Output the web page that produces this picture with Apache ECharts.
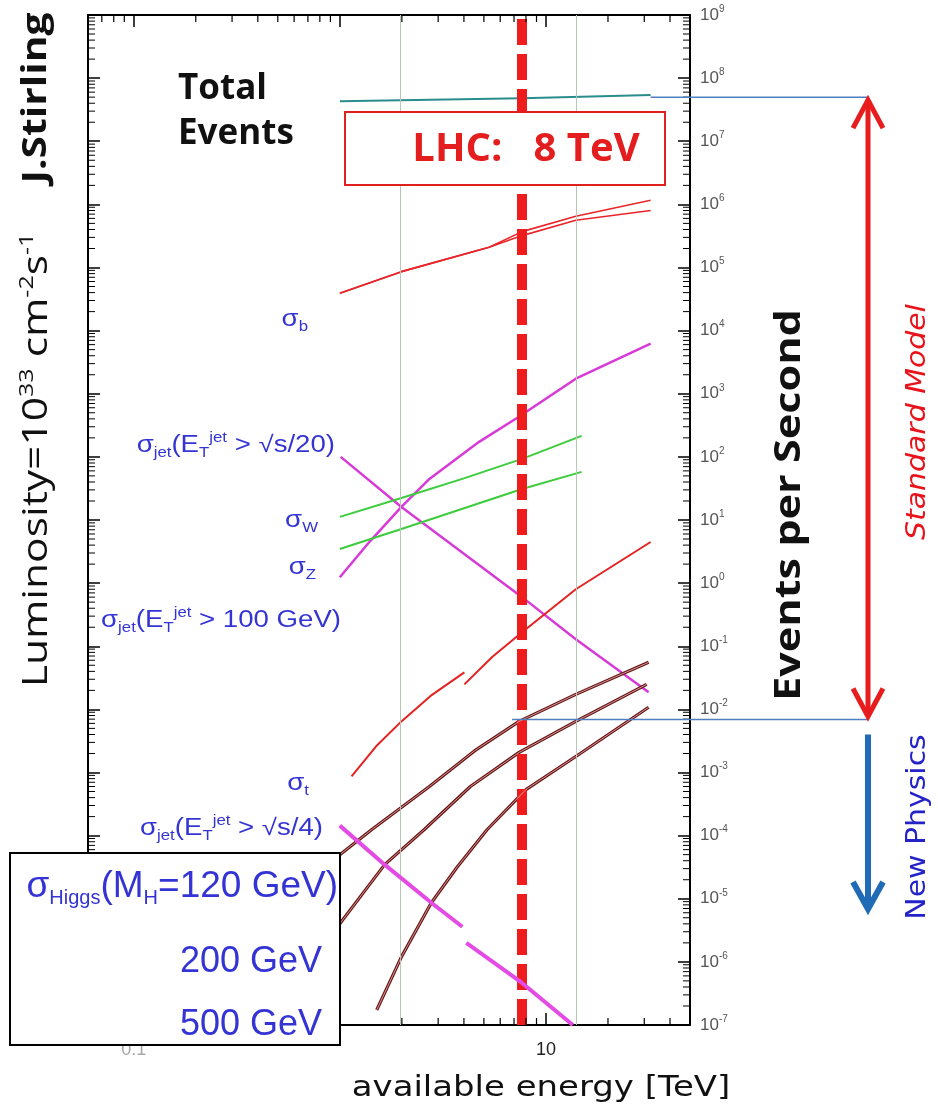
<!DOCTYPE html>
<html>
<head>
<meta charset="utf-8">
<title>Events per second at the LHC</title>
<script src="https://cdn.jsdelivr.net/npm/echarts@6/dist/echarts.min.js"></script>
<style>
  html, body { margin: 0; padding: 0; background: #ffffff; }
  #chart { width: 938px; height: 1112px; }
</style>
</head>
<body>
<div id="chart"></div>
<script>
// axes: available energy in TeV, events per second at L = 1e33 cm^-2 s^-1
const energyRange = [0.06, 50];
const rateRange = [1e-7, 1e9];
const xTickLabels = [[0.1, '0.1'], [10, '10']];
const rateTickPowers = [-7, -6, -5, -4, -3, -2, -1, 0, 1, 2, 3, 4, 5, 6, 7, 8, 9];

// curves as [energy, events per second]
const totalEvents = [[1, 4.3e7], [7.66, 4.8e7], [32.2, 5.4e7]];
const sigmaBUpper = [[1, 3.9e4], [1.99, 8.6e4], [5.3, 2.1e5], [7.66, 3.7e5], [13.96, 6.5e5], [32.2, 1.16e6]];
const sigmaBLower = [[1, 3.9e4], [1.99, 8.6e4], [5.3, 2.1e5], [7.66, 3.2e5], [13.96, 5.6e5], [32.2, 8.0e5]];
const jetSqrtS20 = [[1.01, 100], [1.99, 16.1], [7.66, 0.6], [13.96, 0.129], [31.5, 0.0186]];
const jet100GeV = [[1, 1.24], [1.4, 4.6], [1.99, 16.1], [2.72, 44.8], [4.74, 173], [7.3, 420], [13.96, 1730], [32.2, 6220]];
const sigmaW = [[1, 11.2], [1.99, 22.3], [3.93, 44.8], [7.66, 92.9], [14.9, 215]];
const sigmaZ = [[1, 3.47], [1.99, 7.19], [7.66, 31.0], [14.9, 57.8]];
const topPpbar = [[1.14, 8.65e-4], [1.5, 2.6e-3], [1.99, 6.45e-3], [2.8, 1.7e-2], [4.02, 0.0386]];
const topPp = [[4.02, 0.0249], [5.5, 0.068], [7.66, 0.167], [13.96, 0.80], [32.2, 4.48]];
const higgs120 = [[1, 4.99e-5], [1.43, 1.25e-4], [2.72, 6.0e-4], [4.5, 2.2e-3], [7.41, 6.45e-3], [13.96, 0.0173], [31.5, 0.0557]];
const higgs200 = [[0.95, 3.22e-6], [1.65, 3.47e-5], [2.57, 1.25e-4], [4.3, 6.0e-4], [7.41, 2.08e-3], [13.96, 6.45e-3], [30.8, 0.0249]];
const higgs500 = [[1.51, 1.73e-7], [1.99, 1.2e-6], [2.78, 8.65e-6], [3.72, 3.22e-5], [5.19, 1.25e-4], [8.0, 5.37e-4], [13.96, 1.79e-3], [31.5, 0.0108]];
const jetSqrtS4Ppbar = [[1, 1.44e-4], [1.65, 3.47e-5], [2.78, 8.65e-6], [3.93, 3.6e-6]];
const jetSqrtS4Pp = [[4.11, 2.0e-6], [7.66, 4.64e-7], [13.5, 1.0e-7]];

// reference energies and the standard model band
const tevatronE = 1.96;
const lhc8E = 7.66;
const lhc14E = 14;
const smBand = [5.0e7, 6.9e-3];
const smLineStartE = [32.2, 6.85];

const helv = '"Liberation Sans", Arial, sans-serif';
const sans = '"Open Sans", Lato, sans-serif';
const blue = '#3434d4';

const chart = echarts.init(document.getElementById('chart'));

function curve(data, color, width, z) {
  return {
    type: 'line', data: data, symbol: 'none', showSymbol: false,
    smooth: false, silent: true,
    lineStyle: { color: color, width: width, join: 'round' }, z: z || 3
  };
}

function xLabel(v) {
  for (const [val, txt] of xTickLabels) {
    if (Math.abs(Math.log10(v) - Math.log10(val)) < 1e-6) return val < 1 ? '{g|' + txt + '}' : '{k|' + txt + '}';
  }
  return '';
}

function yLabel(v) {
  const p = Math.round(Math.log10(v));
  if (Math.abs(Math.log10(v) - p) > 1e-6 || rateTickPowers.indexOf(p) < 0) return '';
  return '{b|10}{e|' + p + '}';
}

const axisLine = { show: true, onZero: false, lineStyle: { color: '#000', width: 2 } };
const axisTick = { show: true, inside: true, length: 12, lineStyle: { color: '#000', width: 1.5 } };

const option = {
  animation: false,
  backgroundColor: '#ffffff',
  grid: { left: 88, right: 248, top: 15, bottom: 87, containLabel: false },
  xAxis: [
    {
      type: 'log', position: 'bottom', min: energyRange[0], max: energyRange[1],
      axisLine: axisLine, axisTick: axisTick, splitLine: { show: false },
      axisLabel: {
        margin: 16, formatter: xLabel,
        rich: {
          g: { fontSize: 18, color: '#a8a8a8', fontFamily: helv },
          k: { fontSize: 18, color: '#222', fontFamily: helv }
        }
      }
    },
    {
      type: 'log', position: 'top', min: energyRange[0], max: energyRange[1],
      axisLine: axisLine, axisTick: axisTick, splitLine: { show: false }, axisLabel: { show: false }
    }
  ],
  yAxis: [
    {
      type: 'log', position: 'right', min: rateRange[0], max: rateRange[1],
      interval: 1, splitNumber: 16,
      axisLine: axisLine, axisTick: axisTick, splitLine: { show: false },
      axisLabel: {
        margin: 10, formatter: yLabel,
        rich: {
          b: { fontSize: 17, color: '#555', fontFamily: helv, lineHeight: 22 },
          e: { fontSize: 10, color: '#555', fontFamily: helv, lineHeight: 10, verticalAlign: 'top' }
        }
      }
    },
    {
      type: 'log', position: 'left', min: rateRange[0], max: rateRange[1],
      interval: 1, splitNumber: 16,
      axisLine: axisLine, axisTick: axisTick, splitLine: { show: false }, axisLabel: { show: false }
    }
  ],
  series: [
    {
      type: 'line', data: [], z: 1, silent: true,
      markLine: {
        symbol: 'none', silent: true, label: { show: false }, emphasis: { disabled: true },
        lineStyle: { color: '#b7c8b7', width: 1, type: 'solid' },
        data: [{ xAxis: tevatronE }, { xAxis: lhc14E }]
      }
    },
    curve(totalEvents, '#2a8c8c', 2),
    curve(sigmaBUpper, '#e8262a', 1.6),
    curve(sigmaBLower, '#e8262a', 1.6),
    curve(jetSqrtS20, '#d83ad8', 2.5),
    curve(jet100GeV, '#d83ad8', 2.5),
    curve(sigmaW, '#3ccc3c', 2),
    curve(sigmaZ, '#3ccc3c', 2),
    curve(topPpbar, '#e42222', 2),
    curve(topPp, '#e42222', 2),
    curve(higgs120, '#6a1616', 3.2, 4),
    curve(higgs120, '#dba4a4', 0.9, 5),
    curve(higgs200, '#6a1616', 3.2, 4),
    curve(higgs200, '#dba4a4', 0.9, 5),
    curve(higgs500, '#6a1616', 3.2, 4),
    curve(higgs500, '#dba4a4', 0.9, 5),
    curve(jetSqrtS4Ppbar, '#e44ae4', 4, 6),
    curve(jetSqrtS4Pp, '#e44ae4', 4, 6),
    {
      type: 'line', data: [], z: 10, silent: true,
      markLine: {
        symbol: 'none', silent: true, label: { show: false }, emphasis: { disabled: true },
        lineStyle: { color: '#ee1c1c', width: 10, type: [26, 9] },
        data: [{ xAxis: lhc8E }]
      }
    }
  ]
};

chart.setOption(option);

const px = (x, y) => chart.convertToPixel({ gridIndex: 0 }, [x, y]);
const els = [];

function seg(x1, y1, x2, y2, color, w, z) {
  els.push({ type: 'line', z: z || 50, silent: true,
    shape: { x1: x1, y1: y1, x2: x2, y2: y2 },
    style: { stroke: color, lineWidth: w } });
}
function poly(points, color, w) {
  els.push({ type: 'polyline', z: 60, silent: true, shape: { points: points },
    style: { stroke: color, lineWidth: w, fill: null, lineJoin: 'miter' } });
}
function text(x, y, str, font, fill, opt) {
  opt = opt || {};
  els.push({
    type: 'text', x: x, y: y, z: 200, silent: true,
    rotation: opt.rot || 0, scaleX: opt.sx || 1, scaleY: opt.sy || 1,
    style: { text: str, font: font, fill: fill, align: opt.align || 'center',
      verticalAlign: 'middle', rich: opt.rich }
  });
}

// minor ticks (2..9 of each decade), placed through the axes
for (let p = rateTickPowers[0]; p < rateTickPowers[rateTickPowers.length - 1]; p++) {
  for (let m = 2; m <= 9; m++) {
    const v = m * Math.pow(10, p);
    const l = px(energyRange[0], v), r = px(energyRange[1], v);
    seg(l[0], l[1], l[0] + 7, l[1], '#000', 1, 20);
    seg(r[0] - 7, r[1], r[0], r[1], '#000', 1, 20);
  }
}
for (let p = -2; p <= 1; p++) {
  for (let m = 2; m <= 9; m++) {
    const v = m * Math.pow(10, p);
    if (v <= energyRange[0] || v >= energyRange[1]) continue;
    const b = px(v, rateRange[0]), t = px(v, rateRange[1]);
    seg(b[0], b[1] - 7, b[0], b[1], '#000', 1.2, 20);
    seg(t[0], t[1], t[0], t[1] + 7, '#000', 1.2, 20);
  }
}

// standard model / new physics band
const arrowX = 868;
const smTop = px(smLineStartE[0], smBand[0]);
const smBot = px(smLineStartE[1], smBand[1]);
seg(smTop[0], smTop[1], arrowX, smTop[1], '#4f7fc0', 1.5);
seg(smBot[0], smBot[1], arrowX, smBot[1], '#4f7fc0', 1.5);
seg(arrowX, smTop[1] + 3, arrowX, smBot[1] - 3, '#e81c1c', 5);
poly([[arrowX - 15, smTop[1] + 31], [arrowX, smTop[1] + 3], [arrowX + 15, smTop[1] + 31]], '#e81c1c', 5);
poly([[arrowX - 15, smBot[1] - 31], [arrowX, smBot[1] - 3], [arrowX + 15, smBot[1] - 31]], '#e81c1c', 5);
seg(arrowX, smBot[1] + 15, arrowX, 908, '#1f6bb5', 6);
poly([[arrowX - 15, 882], [arrowX, 909], [arrowX + 15, 882]], '#1f6bb5', 6);

// boxes
els.push({ type: 'rect', z: 150, silent: true, shape: { x: 345, y: 112, width: 320, height: 73 },
  style: { fill: '#ffffff', stroke: '#e02020', lineWidth: 2 } });
els.push({ type: 'rect', z: 150, silent: true, shape: { x: 10, y: 853, width: 330, height: 192 },
  style: { fill: '#ffffff', stroke: '#000000', lineWidth: 2 } });

// black titles
text(36, 98, 'J.Stirling', 'bold 34px ' + sans, '#111', { rot: Math.PI / 2, sx: 1.2 });
text(37, 460, '{m|Luminosity=10}{s|33}{m| cm}{s|-2}{m|s}{s|-1}', '34px ' + sans, '#111', {
  rot: Math.PI / 2, sx: 1.25,
  rich: {
    m: { font: '34px ' + sans, fill: '#111', lineHeight: 40 },
    s: { font: '20px ' + sans, fill: '#111', lineHeight: 20, verticalAlign: 'top' }
  }
});
text(178, 89, 'Total', 'bold 35px ' + sans, '#111', { align: 'left' });
text(178, 134, 'Events', 'bold 35px ' + sans, '#111', { align: 'left' });
text(526, 150, 'LHC:   8 TeV', 'bold 40px ' + sans, '#e41e1e');
text(790, 505, 'Events per Second', 'bold 36px ' + sans, '#111', { rot: Math.PI / 2, sx: 1.2 });
text(918, 422, 'Standard Model', 'italic 26px "DejaVu Sans"', '#e8141c', { rot: Math.PI / 2, sx: 1.15 });
text(918, 827, 'New Physics', '26px "DejaVu Sans"', '#2323c8', { rot: Math.PI / 2, sx: 1.15 });
text(541, 1088, 'available energy [TeV]', '29px "DejaVu Sans"', '#111', { sx: 1.17 });

// blue process labels
function blueRich(size, small) {
  return {
    g: { font: size + 'px ' + helv, fill: blue, lineHeight: size + 6 },
    b: { font: small + 'px ' + helv, fill: blue, lineHeight: small, verticalAlign: 'bottom' },
    p: { font: small + 'px ' + helv, fill: blue, lineHeight: small, verticalAlign: 'top' }
  };
}
const r23 = blueRich(23, 14);
const wide = { align: 'right', rich: r23, sx: 1.2 };
text(308, 320, '{g|σ}{b|b}', '23px ' + helv, blue, wide);
text(335, 446, '{g|σ}{b|jet}{g|(E}{b|T}{p|jet}{g| > √s/20)}', '23px ' + helv, blue, wide);
text(318, 521, '{g|σ}{b|W}', '23px ' + helv, blue, wide);
text(316, 568, '{g|σ}{b|Z}', '23px ' + helv, blue, wide);
text(341, 621, '{g|σ}{b|jet}{g|(E}{b|T}{p|jet}{g| > 100 GeV)}', '23px ' + helv, blue, wide);
text(309, 784, '{g|σ}{b|t}', '23px ' + helv, blue, wide);
text(323, 829, '{g|σ}{b|jet}{g|(E}{b|T}{p|jet}{g| > √s/4)}', '23px ' + helv, blue, wide);
text(338, 887, '{g|σ}{b|Higgs}{g|(M}{b|H}{g|=120 GeV)}', '37px ' + helv, blue, { align: 'right', rich: blueRich(37, 20) });
text(322, 962, '200 GeV', '36px ' + helv, blue, { align: 'right' });
text(322, 1025, '500 GeV', '36px ' + helv, blue, { align: 'right' });

chart.setOption({ graphic: { elements: els } });
</script>
</body>
</html>
